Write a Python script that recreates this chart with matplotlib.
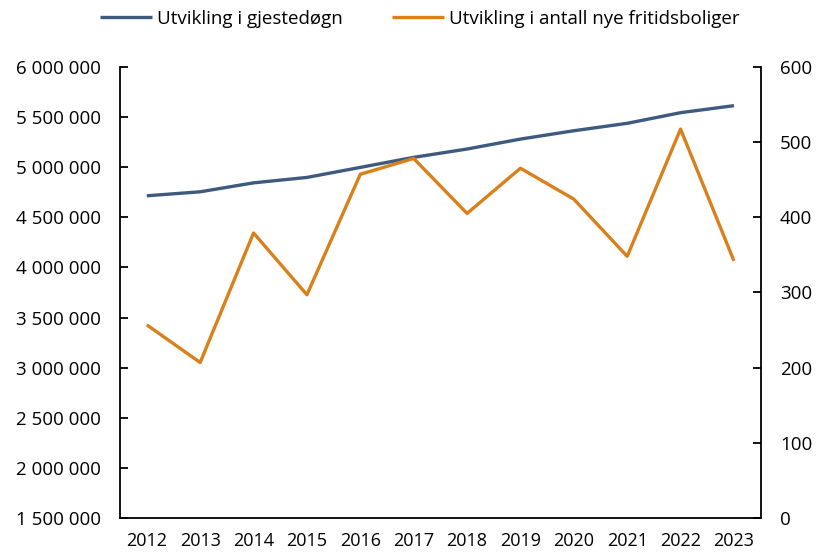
import matplotlib.pyplot as plt
from matplotlib.ticker import FuncFormatter

years = ["2012", "2013", "2014", "2015", "2016", "2017",
         "2018", "2019", "2020", "2021", "2022", "2023"]
gjestedogn = [4713000, 4753000, 4842000, 4896000, 4996000, 5096000,
              5179000, 5278000, 5361000, 5435000, 5541000, 5611000]
fritidsboliger = [257, 207, 379, 297, 457, 478, 405, 465, 424, 348, 517, 342]

plt.rcParams['font.family'] = ['Open Sans', 'DejaVu Sans']

fig = plt.figure(figsize=(8.17, 5.55), dpi=100)
ax = fig.add_axes([0.147, 0.066, 0.784, 0.814])
ax2 = ax.twinx()

x = range(len(years))
l1, = ax.plot(x, gjestedogn, color='#3E5A7E', lw=2.4, solid_capstyle='butt',
              label='Utvikling i gjestedøgn')
l2, = ax2.plot(x, fritidsboliger, color='#D9801A', lw=2.4, solid_capstyle='butt',
               label='Utvikling i antall nye fritidsboliger')

ax.set_xlim(-0.5, len(years) - 0.5)
ax.set_ylim(1500000, 6000000)
ax.set_yticks(range(1500000, 6000001, 500000))
ax.yaxis.set_major_formatter(FuncFormatter(lambda v, p: f"{int(v):,}".replace(",", " ")))
ax2.set_ylim(0, 600)
ax2.set_yticks(range(0, 601, 100))

ax.set_xticks(list(x))
ax.set_xticklabels(years)

for a in (ax, ax2):
    a.spines['top'].set_visible(False)
    for s in a.spines.values():
        s.set_linewidth(1.3)
ax.spines['right'].set_visible(False)
ax2.spines['left'].set_visible(False)
ax2.spines['bottom'].set_visible(False)

ax.tick_params(axis='y', direction='in', length=6, width=1.3, labelsize=13.5, pad=14)
ax.tick_params(axis='x', length=0, labelsize=13, pad=10)
ax2.tick_params(axis='y', direction='in', length=6, width=1.3, labelsize=13.5, pad=14)

# legend sits a bit right of centre in the original
fig.legend(handles=[l1, l2], loc='upper center', bbox_to_anchor=(0.514, 1.013),
           ncol=2, frameon=False, fontsize=13.5, handlelength=2.8,
           handletextpad=0.27, columnspacing=2.6)

fig.savefig("out.png", dpi=100)
